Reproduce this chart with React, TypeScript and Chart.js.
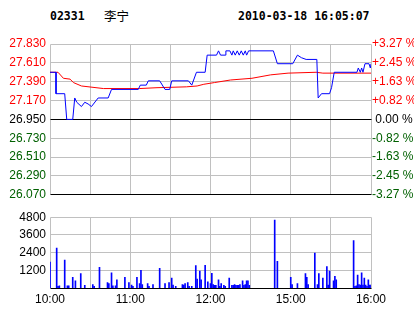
import React, { useEffect, useRef } from "react";
import { Chart, registerables } from "chart.js";

Chart.register(...registerables);

const stockCode = "02331";
const stockName = "李宁";
const timestamp = "2010-03-18 16:05:07";
const prevClose = 26.95;

const priceTicks = [26.07, 26.29, 26.51, 26.73, 26.95, 27.17, 27.39, 27.61, 27.83];
const volumeTicks = [0, 1200, 2400, 3600, 4800];
const gridMinutes = [0, 30, 60, 90, 120, 150, 180, 210, 240];
const timeTickMinutes = [0, 60, 120, 180, 240];
const timeTickLabels = ["10:00", "11:00", "12:00", "15:00", "16:00"];

// price line (trading minute index, price)
const priceMinutes = [0, 4.5, 4.5, 11, 12.5, 17, 18.5, 20, 23.5, 26, 28.5, 31, 36, 43.5, 46, 66, 67.5, 72, 73.5, 82, 86, 89.5, 91, 103.5, 106, 109.5, 116, 117.5, 124.5, 126, 127.5, 131, 131.5, 134.5, 136, 137, 138.5, 140, 141.5, 143, 144.5, 146, 147, 148.5, 167, 170, 181.5, 185, 188, 191.5, 199.5, 200.5, 203, 209, 210.5, 212.5, 229.5, 230.5, 232, 233, 234, 235.5, 238.5, 239.5, 240];
const priceValues = [27.5, 27.5, 27.25, 27.25, 26.95, 26.95, 27.2, 27.15, 27.1, 27.15, 27.13, 27.1, 27.2, 27.2, 27.3, 27.3, 27.35, 27.35, 27.4, 27.4, 27.3, 27.3, 27.4, 27.4, 27.35, 27.5, 27.5, 27.7, 27.7, 27.75, 27.7, 27.7, 27.75, 27.75, 27.7, 27.75, 27.7, 27.75, 27.7, 27.75, 27.7, 27.75, 27.7, 27.75, 27.75, 27.6, 27.6, 27.7, 27.67, 27.65, 27.65, 27.2, 27.25, 27.25, 27.32, 27.5, 27.5, 27.55, 27.5, 27.55, 27.5, 27.6, 27.6, 27.55, 27.6];

// average price line
const avgMinutes = [0, 6, 10, 15, 17.5, 23.5, 40, 67, 80, 102, 110, 115, 123, 135, 151, 165, 178, 199, 204, 240];
const avgValues = [27.5, 27.5, 27.43, 27.42, 27.38, 27.34, 27.31, 27.31, 27.32, 27.33, 27.34, 27.36, 27.38, 27.41, 27.43, 27.47, 27.49, 27.5, 27.49, 27.49];

// volume bars
const volMinutes = [0, 5, 6, 7, 11, 13, 14, 17, 19, 23, 26, 32, 33, 37, 43, 44, 46, 47, 49, 50, 56, 59, 61, 62, 65, 67, 68, 69, 73, 74, 77, 82, 86, 89, 91, 92, 94, 99, 100, 101, 103, 104, 106, 109, 110, 112, 113, 116, 118, 120, 121, 122, 123, 124, 126, 127, 128, 130, 131, 134, 136, 137, 138, 139, 140, 141, 142, 144, 145, 146, 147, 148, 149, 168, 170, 180, 181, 185, 191, 192, 193, 198, 200, 201, 204, 207, 208, 209, 212, 213, 214, 227, 228, 229, 230, 231, 232, 233, 234, 235, 236, 237, 238, 239, 240];
const volValues = [1750, 2700, 120, 150, 1900, 150, 150, 730, 490, 970, 180, 240, 120, 1400, 365, 300, 1030, 150, 150, 550, 730, 365, 200, 120, 730, 300, 1200, 240, 300, 120, 240, 1340, 300, 365, 670, 200, 120, 240, 200, 300, 365, 120, 120, 1520, 610, 1150, 550, 1540, 420, 300, 990, 240, 180, 180, 550, 120, 300, 180, 120, 670, 180, 180, 240, 180, 180, 180, 240, 490, 180, 240, 490, 490, 180, 4600, 1800, 730, 240, 300, 970, 730, 240, 2370, 240, 970, 670, 1460, 200, 1150, 490, 790, 550, 3220, 120, 150, 880, 240, 200, 1030, 200, 670, 200, 120, 550, 200, 200];

const GRID = "#c0c0c0";
const UP = "#ff0000";
const DOWN = "#006000";
const LABEL_FONT = "'Liberation Sans', Arial, sans-serif";

function colorFor(v: number) {
  if (Math.abs(v - prevClose) < 1e-9) return "#000000";
  return v > prevClose ? UP : DOWN;
}

function pctLabel(v: number) {
  const p = ((v - prevClose) / prevClose) * 100;
  if (Math.abs(p) < 0.005) return " 0.00 %";
  return (p > 0 ? "+" : "-") + Math.abs(p).toFixed(2) + " %";
}

// draws the gray grid and the black reference lines through the chart's own scales
const gridPlugin = {
  id: "quoteGrid",
  beforeDatasetsDraw(chart: any, _args: any, opts: any) {
    const { ctx, chartArea: ca, scales } = chart;
    const xs = scales.x;
    const ys = scales.y;
    const yTicks: number[] = opts.yTicks || [];
    const blackVals: number[] = opts.blackValues || [];
    const al = (p: number) => Math.floor(p) + 0.5;
    ctx.save();
    ctx.lineWidth = 1;
    ctx.strokeStyle = GRID;
    ctx.beginPath();
    gridMinutes.forEach((m) => {
      const px = al(xs.getPixelForValue(m));
      ctx.moveTo(px, al(ca.top));
      ctx.lineTo(px, al(ca.bottom));
    });
    yTicks.forEach((v) => {
      if (blackVals.some((b) => Math.abs(b - v) < 1e-9)) return;
      const py = al(ys.getPixelForValue(v));
      ctx.moveTo(al(ca.left), py);
      ctx.lineTo(al(ca.right), py);
    });
    ctx.stroke();
    ctx.strokeStyle = "#000000";
    ctx.beginPath();
    blackVals.forEach((v) => {
      const py = al(ys.getPixelForValue(v));
      ctx.moveTo(al(ca.left), py);
      ctx.lineTo(al(ca.right), py);
    });
    ctx.stroke();
    ctx.restore();
  },
};

function xScale(showLabels: boolean, height: number) {
  return {
    type: "linear",
    min: 0,
    max: 240,
    offset: false,
    afterBuildTicks: (s: any) => {
      s.ticks = gridMinutes.map((v) => ({ value: v }));
    },
    afterFit: (s: any) => {
      s.height = height;
    },
    grid: { display: false, drawTicks: false, offset: false },
    border: { display: false },
    ticks: {
      display: showLabels,
      autoSkip: false,
      maxRotation: 0,
      padding: 4,
      color: "#000000",
      font: { family: LABEL_FONT, size: 12 },
      callback: (v: any) => {
        const i = timeTickMinutes.indexOf(Number(v));
        return i >= 0 ? timeTickLabels[i] : "";
      },
    },
  };
}

export default function App() {
  const priceRef = useRef<HTMLCanvasElement>(null);
  const volRef = useRef<HTMLCanvasElement>(null);

  useEffect(() => {
    document.body.style.margin = "0";
    document.body.style.background = "#ffffff";

    const priceChart = new Chart(priceRef.current as HTMLCanvasElement, {
      type: "line",
      data: {
        datasets: [
          {
            data: avgMinutes.map((m, i) => ({ x: m, y: avgValues[i] })),
            borderColor: "#ff0000",
            borderWidth: 1,
            pointRadius: 0,
            tension: 0,
            order: 2,
          },
          {
            data: priceMinutes.map((m, i) => ({ x: m, y: priceValues[i] })),
            borderColor: "#0000ff",
            borderWidth: 1,
            pointRadius: 0,
            tension: 0,
            order: 1,
          },
        ],
      },
      plugins: [gridPlugin],
      options: {
        animation: false,
        responsive: false,
        events: [],
        layout: { padding: { top: 44, bottom: 2, left: 0, right: 0 } },
        plugins: {
          legend: { display: false },
          tooltip: { enabled: false },
          quoteGrid: { yTicks: priceTicks, blackValues: [prevClose, priceTicks[0]] },
        },
        scales: {
          x: xScale(false, 0) as any,
          y: {
            type: "linear",
            position: "left",
            min: 26.07,
            max: 27.83,
            afterBuildTicks: (s: any) => {
              s.ticks = priceTicks.map((v) => ({ value: v }));
            },
            afterFit: (s: any) => {
              s.width = 50;
            },
            grid: { display: false, drawTicks: false },
            border: { display: false },
            ticks: {
              padding: 4,
              font: { family: LABEL_FONT, size: 12 },
              color: (ctx: any) => colorFor(ctx.tick.value),
              callback: (v: any) => Number(v).toFixed(3),
            },
          },
          y2: {
            type: "linear",
            position: "right",
            min: 26.07,
            max: 27.83,
            afterBuildTicks: (s: any) => {
              s.ticks = priceTicks.map((v) => ({ value: v }));
            },
            afterFit: (s: any) => {
              s.width = 43;
            },
            grid: { display: false, drawTicks: false },
            border: { display: false },
            ticks: {
              padding: 1,
              font: { family: LABEL_FONT, size: 12 },
              color: (ctx: any) => colorFor(ctx.tick.value),
              callback: (v: any) => pctLabel(Number(v)),
            },
          },
        },
      } as any,
    });

    const volChart = new Chart(volRef.current as HTMLCanvasElement, {
      type: "bar",
      data: {
        datasets: [
          {
            data: volMinutes.map((m, i) => ({ x: m, y: volValues[i] })),
            backgroundColor: "#0000ff",
            borderWidth: 0,
            barThickness: 1,
          },
        ],
      },
      plugins: [gridPlugin],
      options: {
        animation: false,
        responsive: false,
        events: [],
        layout: { padding: { top: 3, bottom: 0, left: 0, right: 43 } },
        plugins: {
          legend: { display: false },
          tooltip: { enabled: false },
          quoteGrid: { yTicks: volumeTicks, blackValues: [0] },
        },
        scales: {
          x: xScale(true, 26) as any,
          y: {
            type: "linear",
            position: "left",
            min: 0,
            max: 4800,
            afterBuildTicks: (s: any) => {
              s.ticks = volumeTicks.map((v) => ({ value: v }));
            },
            afterFit: (s: any) => {
              s.width = 50;
            },
            grid: { display: false, drawTicks: false },
            border: { display: false },
            ticks: {
              padding: 4,
              font: { family: LABEL_FONT, size: 12 },
              color: "#000000",
              callback: (v: any) => (Number(v) === 0 ? "" : String(v)),
            },
          },
        },
      } as any,
    });

    return () => {
      priceChart.destroy();
      volChart.destroy();
    };
  }, []);

  const headerStyle: React.CSSProperties = {
    position: "absolute",
    top: 9,
    fontFamily: "'DejaVu Sans Mono', monospace",
    fontWeight: "bold",
    fontSize: "11.5px",
    lineHeight: "14px",
    color: "#000",
    whiteSpace: "pre",
  };

  return (
    <div style={{ position: "relative", width: 414, height: 314, background: "#fff", overflow: "hidden" }}>
      <div style={{ ...headerStyle, left: 50 }}>{stockCode}</div>
      <div
        style={{
          ...headerStyle,
          left: 104,
          top: 8,
          fontFamily: "'Noto Sans CJK SC', sans-serif",
          fontWeight: "normal",
          fontSize: "12.5px",
          lineHeight: "16px",
        }}
      >
        {stockName}
      </div>
      <div style={{ ...headerStyle, left: 238 }}>{timestamp}</div>
      <canvas ref={priceRef} width={414} height={206} style={{ position: "absolute", left: 0, top: 0 }} />
      <canvas ref={volRef} width={414} height={108} style={{ position: "absolute", left: 0, top: 206 }} />
    </div>
  );
}
